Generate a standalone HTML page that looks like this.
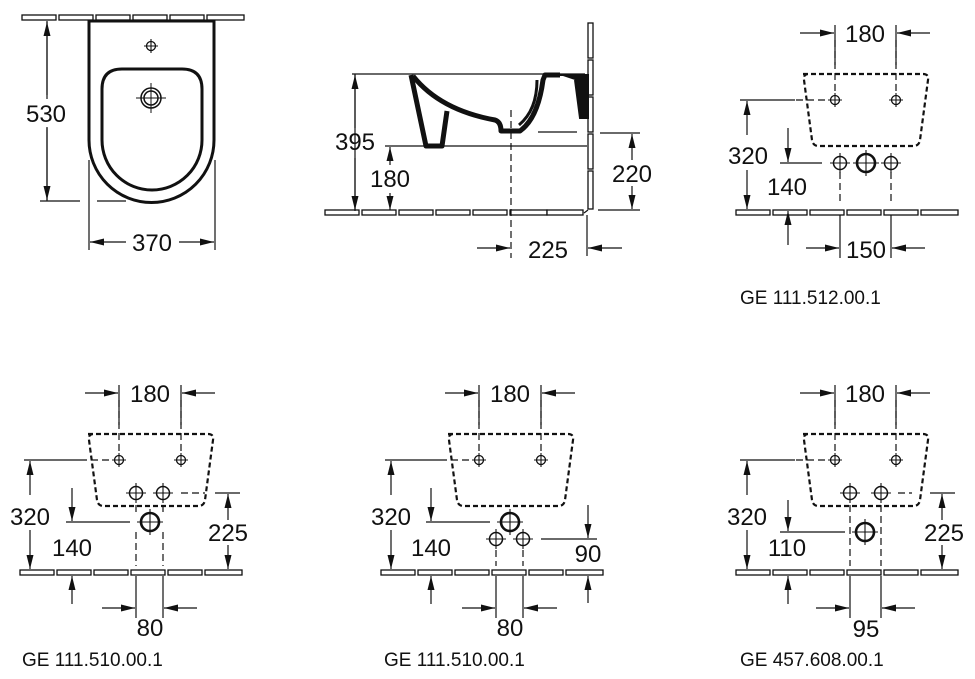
<!DOCTYPE html>
<html><head><meta charset="utf-8"><style>
html,body{margin:0;padding:0;background:#fff;}
svg{display:block;}
text{font-family:"Liberation Sans",Arial,sans-serif;fill:#111;}
.d{font-size:24px;text-anchor:middle;}
.g{font-size:19px;}
.l{stroke:#111;stroke-width:1.2;fill:none;}
.t{stroke:#111;stroke-width:1.3;fill:#fff;}
.dash{stroke:#111;stroke-width:2.2;fill:none;stroke-dasharray:5 3;}
.cd{stroke:#111;stroke-width:1.2;fill:none;stroke-dasharray:7 4;}
</style></head><body>
<svg width="975" height="679" viewBox="0 0 975 679" xmlns="http://www.w3.org/2000/svg">
<defs>
<marker id="a" viewBox="0 0 14 7" refX="14" refY="3.5" markerWidth="14" markerHeight="7" markerUnits="userSpaceOnUse" orient="auto"><path d="M0,0 L14,3.5 L0,7 z" fill="#111"/></marker>
<g id="sx"><circle r="4.5" fill="none" stroke="#111" stroke-width="1.3"/><path d="M-7,0H7M0,-7V7" stroke="#111" stroke-width="1.1"/></g>
<g id="mx"><circle r="6.5" fill="none" stroke="#111" stroke-width="1.5"/><path d="M-10,0H10M0,-10V10" stroke="#111" stroke-width="1.1"/></g>
<g id="bx"><circle r="9" fill="none" stroke="#111" stroke-width="2.6"/><path d="M-13,0H13M0,-13V13" stroke="#111" stroke-width="1.1"/></g>
<g id="tiles">
<rect class="t" x="0" y="0" width="34" height="5"/><rect class="t" x="37" y="0" width="34" height="5"/><rect class="t" x="74" y="0" width="34" height="5"/><rect class="t" x="111" y="0" width="34" height="5"/><rect class="t" x="148" y="0" width="34" height="5"/><rect class="t" x="185" y="0" width="37" height="5"/>
</g>
<path id="trap" class="dash" d="M89,74 H209 Q215,74 214,80 L206,140 Q205,146 199,146 H105 Q99,146 98,140 L90,80 Q89,74 95,74 Z"/>
</defs>

<!-- Panel A top view -->
<use href="#tiles" x="22" y="15"/>
<path d="M89,21 H214 V140 A62.5,62.5 0 0 1 89,140 Z" fill="#fff" stroke="#111" stroke-width="3"/>
<path d="M122,69 H182 Q202,69 202,89 V140 A50,50 0 0 1 102,140 V89 Q102,69 122,69 Z" fill="none" stroke="#111" stroke-width="3"/>
<use href="#sx" x="151" y="46"/>
<circle cx="151" cy="98" r="10" fill="none" stroke="#111" stroke-width="1.5"/>
<circle cx="151" cy="98" r="7" fill="none" stroke="#111" stroke-width="1.5"/>
<path d="M136,98H166M151,83V113" stroke="#111"/>
<path class="l" d="M47,21 V201 M40,201 H80 M97,201 H126"/>
<path class="l" d="M47,95 V22" marker-end="url(#a)"/><path class="l" d="M47,128 V200" marker-end="url(#a)"/>
<rect x="22" y="99" width="48" height="28" fill="#fff"/>
<text class="d" x="46" y="122">530</text>
<path class="l" d="M89,160 V250 M215,160 V250"/>
<path class="l" d="M126,242 H90" marker-end="url(#a)"/><path class="l" d="M179,242 H214" marker-end="url(#a)"/>
<text class="d" x="152" y="251">370</text>

<!-- Panel B side view -->
<use href="#tiles" x="325" y="210"/>
<rect class="t" x="547" y="210" width="36" height="5"/>
<path class="l" d="M584,213 L588,210"/>
<g fill="#fff" stroke="#111" stroke-width="1.3">
<rect x="588" y="23" width="5" height="35"/><rect x="588" y="60" width="5" height="35"/><rect x="588" y="97" width="5" height="35"/><rect x="588" y="134" width="5" height="35"/><rect x="588" y="171" width="5" height="38"/>
</g>
<path class="l" d="M352,74 H585 M385,146 H587"/>
<path d="M411,75 L426,146 H442 L447,111 M413,76 Q440,110 495,120 Q501,122 501,131 H520 Q538,118 543,80 L545,75 H560" fill="none" stroke="#111" stroke-width="5" stroke-linejoin="round"/>
<path d="M519,125 Q537,110 537,80" fill="none" stroke="#111" stroke-width="3"/>
<path d="M560,75 H588 V118 H580 L575,80" fill="#111" stroke="#111" stroke-width="2"/>
<path class="l" d="M538,132 H577"/>
<path class="l" d="M355,74 V211"/>
<path class="l" d="M355,128 V75" marker-end="url(#a)"/><path class="l" d="M355,158 V210" marker-end="url(#a)"/>
<text class="d" x="355" y="150">395</text>
<path class="l" d="M390,165 V147" marker-end="url(#a)"/><path class="l" d="M390,193 V210" marker-end="url(#a)"/>
<text class="d" x="390" y="187">180</text>
<path class="l" d="M600,133 H640 M598,210 H640"/>
<path class="l" d="M632,160 V134" marker-end="url(#a)"/><path class="l" d="M632,186 V209" marker-end="url(#a)"/>
<text class="d" x="632" y="182">220</text>
<path class="cd" d="M511,110 V258"/>
<path class="l" d="M587,215 V256"/>
<path class="l" d="M477,248 H510" marker-end="url(#a)"/><path class="l" d="M622,248 H588" marker-end="url(#a)"/>
<text class="d" x="548" y="258">225</text>

<!-- Panel C -->
<use href="#tiles" x="736" y="210"/>
<use href="#trap" x="714" y="0"/>
<path class="cd" d="M835,40 V92 M896,40 V92 M796,100 H825"/>
<use href="#sx" x="835" y="100"/><use href="#sx" x="896" y="100"/>
<use href="#mx" x="840" y="163"/><use href="#bx" x="866" y="163"/><use href="#mx" x="891" y="163"/>
<path class="l" d="M835,25 V65 M896,25 V65"/>
<path class="l" d="M800,33 H834" marker-end="url(#a)"/><path class="l" d="M930,33 H897" marker-end="url(#a)"/>
<text class="d" x="865" y="42">180</text>
<path class="l" d="M740,100 H795"/>
<path class="l" d="M747,135 V101" marker-end="url(#a)"/><path class="l" d="M747,170 V209" marker-end="url(#a)"/>
<text class="d" x="748" y="164">320</text>
<path class="l" d="M780,163 H822"/>
<path class="l" d="M788,128 V162" marker-end="url(#a)"/><path class="l" d="M788,245 V211" marker-end="url(#a)"/>
<text class="d" x="787" y="195">140</text>
<path class="cd" d="M840,172 V205 M891,172 V205"/>
<path class="l" d="M840,215 V258 M891,215 V258"/>
<path class="l" d="M806,248 H839" marker-end="url(#a)"/><path class="l" d="M925,248 H892" marker-end="url(#a)"/>
<text class="d" x="866" y="258">150</text>
<text class="g" x="740" y="304">GE 111.512.00.1</text>

<!-- Panel D -->
<use href="#tiles" x="20" y="570"/>
<use href="#trap" x="-1" y="360"/>
<path class="cd" d="M119,400 V452 M181,400 V452 M80,460 H110 M181,493 H205"/>
<use href="#sx" x="119" y="460"/><use href="#sx" x="181" y="460"/>
<use href="#mx" x="136" y="493"/><use href="#mx" x="163" y="493"/><use href="#bx" x="150" y="522"/>
<path class="l" d="M119,385 V425 M181,385 V425"/>
<path class="l" d="M85,393 H118" marker-end="url(#a)"/><path class="l" d="M215,393 H182" marker-end="url(#a)"/>
<text class="d" x="150" y="402">180</text>
<path class="l" d="M24,460 H80"/>
<path class="l" d="M30,495 V461" marker-end="url(#a)"/><path class="l" d="M30,530 V569" marker-end="url(#a)"/>
<text class="d" x="30" y="525">320</text>
<path class="l" d="M66,522 H130"/>
<path class="l" d="M72,488 V521" marker-end="url(#a)"/><path class="l" d="M72,604 V576" marker-end="url(#a)"/>
<text class="d" x="72" y="556">140</text>
<path class="l" d="M215,493 H240"/>
<path class="l" d="M228,520 V494" marker-end="url(#a)"/><path class="l" d="M228,545 V569" marker-end="url(#a)"/>
<text class="d" x="228" y="541">225</text>
<path class="cd" d="M136,505 V512 M163,505 V512 M136,532 V566 M163,532 V566"/>
<path class="l" d="M136,576 V618 M163,576 V618"/>
<path class="l" d="M102,608 H135" marker-end="url(#a)"/><path class="l" d="M197,608 H164" marker-end="url(#a)"/>
<text class="d" x="150" y="636">80</text>
<text class="g" x="22" y="666">GE 111.510.00.1</text>

<!-- Panel E -->
<use href="#tiles" x="381" y="570"/>
<use href="#trap" x="359" y="360"/>
<path class="cd" d="M479,400 V452 M541,400 V452 M440,460 H470"/>
<use href="#sx" x="479" y="460"/><use href="#sx" x="541" y="460"/>
<use href="#bx" x="510" y="522"/><use href="#mx" x="496" y="539"/><use href="#mx" x="523" y="539"/>
<path class="l" d="M479,385 V425 M541,385 V425"/>
<path class="l" d="M445,393 H478" marker-end="url(#a)"/><path class="l" d="M575,393 H542" marker-end="url(#a)"/>
<text class="d" x="510" y="402">180</text>
<path class="l" d="M385,460 H440"/>
<path class="l" d="M391,495 V461" marker-end="url(#a)"/><path class="l" d="M391,530 V569" marker-end="url(#a)"/>
<text class="d" x="391" y="525">320</text>
<path class="l" d="M426,522 H490"/>
<path class="l" d="M431,488 V521" marker-end="url(#a)"/><path class="l" d="M431,604 V576" marker-end="url(#a)"/>
<text class="d" x="431" y="556">140</text>
<path class="l" d="M541,539 H597"/>
<path class="l" d="M588,505 V538" marker-end="url(#a)"/><path class="l" d="M588,603 V576" marker-end="url(#a)"/>
<text class="d" x="588" y="562">90</text>
<path class="cd" d="M496,550 V566 M523,550 V566"/>
<path class="l" d="M496,576 V618 M523,576 V618"/>
<path class="l" d="M462,608 H495" marker-end="url(#a)"/><path class="l" d="M557,608 H524" marker-end="url(#a)"/>
<text class="d" x="510" y="636">80</text>
<text class="g" x="384" y="666">GE 111.510.00.1</text>

<!-- Panel F -->
<use href="#tiles" x="736" y="570"/>
<use href="#trap" x="714" y="360"/>
<path class="cd" d="M835,400 V452 M896,400 V452 M796,460 H825 M898,493 H912"/>
<use href="#sx" x="835" y="460"/><use href="#sx" x="896" y="460"/>
<use href="#mx" x="850" y="493"/><use href="#mx" x="881" y="493"/><use href="#bx" x="865" y="532"/>
<path class="l" d="M835,385 V425 M896,385 V425"/>
<path class="l" d="M800,393 H834" marker-end="url(#a)"/><path class="l" d="M930,393 H897" marker-end="url(#a)"/>
<text class="d" x="865" y="402">180</text>
<path class="l" d="M740,460 H795"/>
<path class="l" d="M747,495 V461" marker-end="url(#a)"/><path class="l" d="M747,530 V569" marker-end="url(#a)"/>
<text class="d" x="747" y="525">320</text>
<path class="l" d="M780,532 H845"/>
<path class="l" d="M788,500 V531" marker-end="url(#a)"/><path class="l" d="M788,604 V576" marker-end="url(#a)"/>
<text class="d" x="787" y="556">110</text>
<path class="l" d="M930,493 H955"/>
<path class="l" d="M942,520 V494" marker-end="url(#a)"/><path class="l" d="M942,545 V569" marker-end="url(#a)"/>
<text class="d" x="944" y="541">225</text>
<path class="cd" d="M850,505 V566 M881,505 V566"/>
<path class="l" d="M850,576 V618 M881,576 V618"/>
<path class="l" d="M816,608 H849" marker-end="url(#a)"/><path class="l" d="M915,608 H882" marker-end="url(#a)"/>
<text class="d" x="866" y="637">95</text>
<text class="g" x="740" y="666">GE 457.608.00.1</text>
</svg>
</body></html>
